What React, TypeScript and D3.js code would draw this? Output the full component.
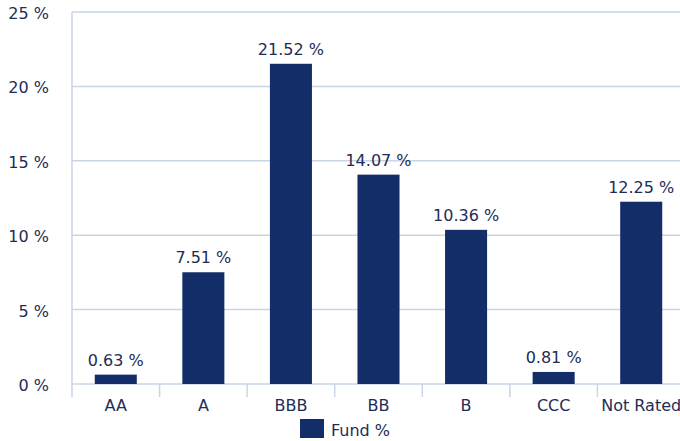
import React from "react";
import * as d3 from "d3";

const categories = ["AA", "A", "BBB", "BB", "B", "CCC", "Not Rated"];
const fundValues = [0.63, 7.51, 21.52, 14.07, 10.36, 0.81, 12.25];
const yTicks = [0, 5, 10, 15, 20, 25];
const seriesName = "Fund %";

const W = 680;
const H = 441;
const left = 72;
const right = 685;
const top = 12;
const bottom = 384;
const font = "Verdana, 'DejaVu Sans', sans-serif";
const textColor = "#1e2d55";
const gridColor = "#c9d5e6";
const barColor = "#132d69";
const fs = 16;

export default function App() {
  const x = d3.scaleBand<string>().domain(categories).range([left, right]).paddingInner(0).paddingOuter(0);
  const y = d3.scaleLinear().domain([0, 25]).range([bottom, top]);
  const bw = x.bandwidth() * 0.48;
  return (
    <svg width={W} height={H} style={{ position: "absolute", left: 0, top: 0 }} fontFamily={font}>
      {yTicks.map((t) => (
        <g key={t}>
          <line x1={left} x2={W} y1={y(t)} y2={y(t)} stroke={gridColor} strokeWidth={1.5} />
          <text x={49} y={y(t) + 7} textAnchor="end" fontSize={fs} fill={textColor}>
            {t} %
          </text>
        </g>
      ))}
      <line x1={left} x2={left} y1={top} y2={bottom + 13} stroke={gridColor} strokeWidth={1.5} />
      {categories.map((c, i) => (
        <g key={c}>
          {i > 0 && (
            <line x1={x(c)!} x2={x(c)!} y1={bottom} y2={bottom + 13} stroke={gridColor} strokeWidth={1.5} />
          )}
          <rect
            x={x(c)! + x.bandwidth() / 2 - bw / 2}
            y={y(fundValues[i])}
            width={bw}
            height={bottom - y(fundValues[i])}
            fill={barColor}
          />
          <text
            x={x(c)! + x.bandwidth() / 2}
            y={y(fundValues[i]) - 9}
            textAnchor="middle"
            fontSize={fs}
            fill={textColor}
          >
            {fundValues[i].toFixed(2)} %
          </text>
          <text x={x(c)! + x.bandwidth() / 2} y={411} textAnchor="middle" fontSize={fs} fill={textColor}>
            {c}
          </text>
        </g>
      ))}
      <rect x={300} y={419} width={24} height={19} fill={barColor} />
      <text x={331} y={436} fontSize={fs} fill={textColor}>
        {seriesName}
      </text>
    </svg>
  );
}
